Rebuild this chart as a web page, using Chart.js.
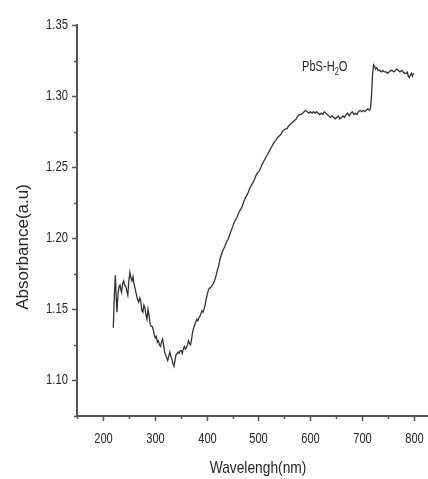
<!DOCTYPE html>
<html>
<head>
<meta charset="utf-8">
<script src="https://cdn.jsdelivr.net/npm/chart.js@4.4.1/dist/chart.umd.min.js"></script>
<style>
  html, body { margin: 0; padding: 0; background: #ffffff; }
  #wrap { width: 428px; height: 479px; }
</style>
</head>
<body>
<div id="wrap"><canvas id="c" width="428" height="479"></canvas></div>
<script>
// ---- data ----
const wavelength = [
  220,222,224,226,227,229,231,233,235,236,238,240,242,244,246,248,250,252,254,256,258,260,
  263,266,269,271,273,275,277,279,281,283,285,287,289,291,293,295,297,299,301,303,305,307,
  309,311,313,315,317,319,321,323,325,327,329,331,333,335,337,339,341,343,345,347,349,351,
  353,355,357,359,361,363,365,367,369,371,373,375,377,379,381,383,385,387,389,391,393,395,
  397,399,401,403,405,407,409,411,413,415,417,419,421,423,425,427,429,432,435,438,441,444,
  447,450,453,456,459,462,465,468,471,474,477,480,483,486,489,492,495,498,501,504,507,510,
  513,516,519,522,525,528,531,534,537,540,543,546,549,552,555,558,561,564,567,570,573,576,
  579,582,585,588,591,594,597,600,603,606,609,612,615,618,621,624,627,630,633,636,639,642,
  645,648,651,654,657,660,663,666,669,672,675,678,681,684,687,690,693,696,699,702,705,708,
  711,714,716,718,720,722,724,726,728,731,734,737,740,743,746,749,752,755,758,761,764,767,
  770,773,776,779,782,785,787,789,791,793,795,797,799
];
const absorbance = [
  1.137,1.160,1.174,1.155,1.148,1.160,1.166,1.167,1.163,1.162,1.168,1.170,1.167,1.166,1.163,1.160,1.170,1.176,1.172,1.170,1.173,1.168,
  1.163,1.158,1.155,1.158,1.156,1.149,1.148,1.153,1.151,1.146,1.143,1.150,1.146,1.140,1.138,1.138,1.136,1.132,1.130,1.131,1.127,1.128,
  1.125,1.124,1.127,1.129,1.125,1.120,1.118,1.116,1.114,1.117,1.120,1.117,1.115,1.112,1.110,1.114,1.118,1.119,1.120,1.119,1.121,1.121,
  1.119,1.122,1.124,1.122,1.123,1.125,1.128,1.126,1.125,1.129,1.134,1.137,1.139,1.141,1.143,1.142,1.144,1.145,1.147,1.149,1.148,1.150,
  1.153,1.157,1.160,1.163,1.165,1.165,1.166,1.167,1.168,1.170,1.172,1.175,1.178,1.180,1.184,1.187,1.189,1.192,1.194,1.197,1.199,1.202,
  1.205,1.208,1.211,1.213,1.215,1.218,1.220,1.222,1.225,1.228,1.230,1.232,1.235,1.237,1.239,1.241,1.244,1.246,1.247,1.249,1.252,1.254,
  1.256,1.258,1.260,1.262,1.264,1.266,1.268,1.269,1.271,1.272,1.273,1.275,1.276,1.277,1.277,1.279,1.280,1.281,1.282,1.283,1.284,1.286,
  1.287,1.287,1.288,1.289,1.290,1.289,1.288,1.289,1.288,1.289,1.288,1.289,1.288,1.287,1.288,1.287,1.289,1.288,1.287,1.286,1.285,1.286,
  1.285,1.284,1.285,1.286,1.284,1.285,1.286,1.285,1.287,1.288,1.286,1.288,1.289,1.287,1.288,1.287,1.289,1.290,1.289,1.290,1.289,1.290,
  1.291,1.290,1.291,1.300,1.315,1.322,1.321,1.319,1.320,1.318,1.318,1.317,1.318,1.317,1.317,1.316,1.317,1.318,1.318,1.317,1.318,1.319,
  1.318,1.317,1.318,1.317,1.316,1.316,1.317,1.314,1.313,1.315,1.316,1.314,1.316
];
const xTickValues  = [150, 200, 250, 300, 350, 400, 450, 500, 550, 600, 650, 700, 750, 800];
const xLabelValues = [200, 300, 400, 500, 600, 700, 800];
const yTickValues  = [1.075, 1.100, 1.125, 1.150, 1.175, 1.200, 1.225, 1.250, 1.275, 1.300, 1.325, 1.350];
const yLabelValues = [1.10, 1.15, 1.20, 1.25, 1.30, 1.35];
const seriesName = 'PbS-H2O';
const xTitle = 'Wavelengh(nm)';
const yTitle = 'Absorbance(a.u)';

const points = wavelength.map((w, i) => ({ x: w, y: absorbance[i] }));
const isIn = (arr, v) => arr.some(a => Math.abs(a - v) < 1e-6);

const AXIS = '#555555';
const TEXT = '#262626';
const SANS = '"Liberation Sans", Arial, sans-serif';

// draws horizontally condensed text (the reference uses a narrow face)
function narrowText(ctx, text, x, y, size, sx, align, baseline) {
  ctx.save();
  ctx.translate(x, y);
  ctx.scale(sx, 1);
  ctx.font = size + 'px ' + SANS;
  ctx.textAlign = align;
  ctx.textBaseline = baseline;
  ctx.fillText(text, 0, 0);
  const w = ctx.measureText(text).width * sx;
  ctx.restore();
  return w;
}

const decorPlugin = {
  id: 'decor',
  afterDraw(chart) {
    const ctx = chart.ctx;
    const xs = chart.scales.x, ys = chart.scales.y;
    const area = chart.chartArea;
    ctx.save();
    ctx.fillStyle = TEXT;
    ctx.strokeStyle = AXIS;
    ctx.lineWidth = 1.5;
    xTickValues.forEach(v => {
      const px = Math.round(xs.getPixelForValue(v)) + 0.5;
      const major = isIn(xLabelValues, v);
      const len = major ? 5 : 3;
      ctx.beginPath(); ctx.moveTo(px, area.bottom); ctx.lineTo(px, area.bottom + len); ctx.stroke();
      if (major) narrowText(ctx, String(v), px, area.bottom + 27, 15, 0.74, 'center', 'alphabetic');
    });
    yTickValues.forEach(v => {
      const py = Math.round(ys.getPixelForValue(v)) + 0.5;
      const major = isIn(yLabelValues, v);
      const len = major ? 5 : 3;
      ctx.beginPath(); ctx.moveTo(area.left, py); ctx.lineTo(area.left - len, py); ctx.stroke();
      if (major) narrowText(ctx, v.toFixed(2), area.left - 9, py - 1, 15, 0.75, 'right', 'middle');
    });
    // axis titles
    narrowText(ctx, xTitle, 258, 473, 17, 0.81, 'center', 'alphabetic');
    ctx.save();
    ctx.translate(28, 247);
    ctx.rotate(-Math.PI / 2);
    ctx.font = '17px ' + SANS;
    ctx.textAlign = 'center';
    ctx.textBaseline = 'alphabetic';
    ctx.fillText(yTitle, 0, 0);
    ctx.restore();
    // series label with subscript, anchored in data space
    const lx = xs.getPixelForValue(584);
    const ly = ys.getPixelForValue(1.3177);
    const parts = seriesName.match(/^(.*H)(2)(O)$/);
    let cx = lx;
    cx += narrowText(ctx, parts[1], cx, ly, 15, 0.74, 'left', 'alphabetic');
    cx += narrowText(ctx, parts[2], cx, ly + 4, 10, 0.74, 'left', 'alphabetic');
    narrowText(ctx, parts[3], cx, ly, 15, 0.74, 'left', 'alphabetic');
    ctx.restore();
  }
};

new Chart(document.getElementById('c'), {
  type: 'line',
  data: {
    datasets: [{
      label: seriesName,
      data: points,
      borderColor: '#333333',
      borderWidth: 1.3,
      pointRadius: 0,
      tension: 0,
      fill: false
    }]
  },
  options: {
    responsive: false,
    animation: false,
    layout: { padding: { top: 25, right: 0, bottom: 0, left: 0 } },
    plugins: { legend: { display: false }, tooltip: { enabled: false } },
    scales: {
      x: {
        type: 'linear',
        min: 150, max: 827,
        afterBuildTicks: s => { s.ticks = xTickValues.map(v => ({ value: v })); },
        afterFit: s => { s.height = 63; },
        grid: { drawOnChartArea: false, drawTicks: false },
        border: { display: true, color: AXIS, width: 2 },
        ticks: { display: false }
      },
      y: {
        type: 'linear',
        min: 1.075, max: 1.35,
        afterBuildTicks: s => { s.ticks = yTickValues.map(v => ({ value: v })); },
        afterFit: s => { s.width = 77; },
        grid: { drawOnChartArea: false, drawTicks: false },
        border: { display: true, color: AXIS, width: 2 },
        ticks: { display: false }
      }
    }
  },
  plugins: [decorPlugin]
});
</script>
</body>
</html>
